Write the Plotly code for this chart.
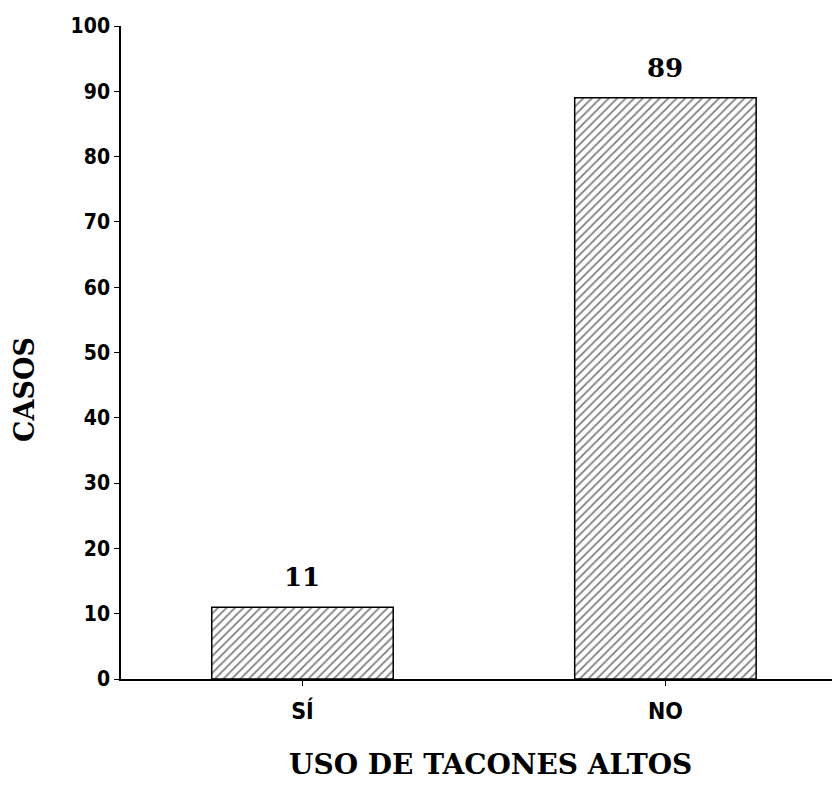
import plotly.graph_objects as go

categories = ["SÍ", "NO"]
values = [11, 89]
labels = ["11", "89"]
y_ticks = [0, 10, 20, 30, 40, 50, 60, 70, 80, 90, 100]

TICK_FONT = "'DejaVu Sans Condensed', 'Liberation Sans Narrow', 'Roboto Condensed', 'DejaVu Sans', sans-serif"
SERIF = "'DejaVu Serif', 'Liberation Serif', serif"

fig = go.Figure()
fig.add_trace(go.Bar(
    x=categories, y=values,
    marker=dict(
        color="white",
        line=dict(color="black", width=1.5),
        pattern=dict(shape="/", fgcolor="black", bgcolor="white", size=6, solidity=0.3),
    ),
    width=0.5,
))

annotations = [
    dict(x=c, y=v, text="<b>%s</b>" % t, xref="x", yref="y", showarrow=False,
         yanchor="middle", yshift=30,
         font=dict(family=SERIF, size=26, color="black"))
    for c, v, t in zip(categories, values, labels)
]
annotations += [
    dict(text="<b>USO DE TACONES ALTOS</b>", xref="paper", yref="paper",
         x=(490 - 121) / 711, y=-(764 - 679) / 653, xanchor="center", yanchor="middle",
         showarrow=False, font=dict(family=SERIF, size=28, color="black")),
    dict(text="<b>CASOS</b>", xref="paper", yref="paper",
         x=-(121 - 24) / 711, y=(679 - 390) / 653, xanchor="center", yanchor="middle",
         textangle=-90, showarrow=False,
         font=dict(family=SERIF, size=27, color="black")),
]

fig.update_layout(
    width=835, height=786,
    margin=dict(l=121, r=3, t=26, b=107),
    paper_bgcolor="white", plot_bgcolor="white",
    showlegend=False,
    font=dict(family=TICK_FONT, size=20, color="black"),
    annotations=annotations,
)
fig.update_xaxes(
    range=[-0.5, 1.459], showline=True, linecolor="black", linewidth=1.5,
    ticks="outside", ticklen=5, tickcolor="black", showgrid=False,
    tickfont=dict(family=TICK_FONT, size=23, weight="bold"),
    ticklabelstandoff=6,
)
fig.update_yaxes(
    range=[0, 100], tickvals=y_ticks, showline=True, linecolor="black", linewidth=1.5,
    ticks="outside", ticklen=5, tickcolor="black", showgrid=False, zeroline=False,
    tickfont=dict(family=TICK_FONT, size=21, weight="bold"),
)

fig.write_html("out.html")
